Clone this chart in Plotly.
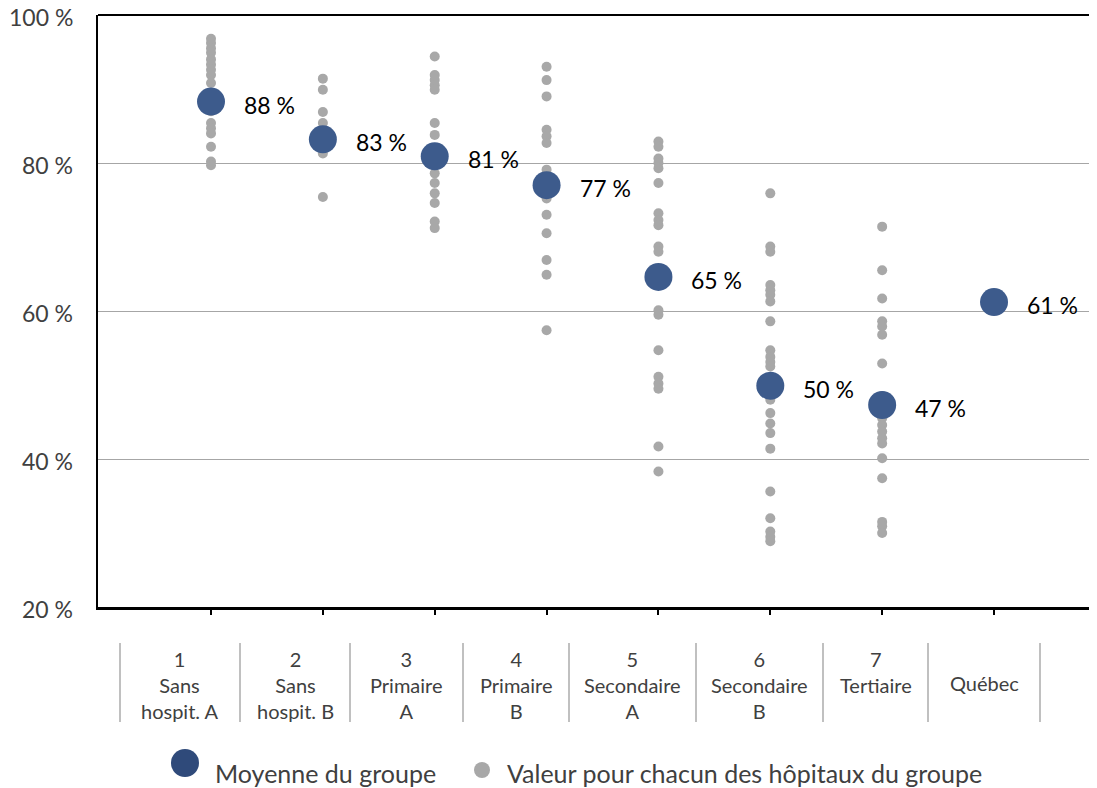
import plotly.graph_objects as go

# ---------------- data ----------------
categories = ["1<br>Sans<br>hospit. A", "2<br>Sans<br>hospit. B", "3<br>Primaire<br>A",
              "4<br>Primaire<br>B", "5<br>Secondaire<br>A", "6<br>Secondaire<br>B",
              "7<br>Tertiaire", "Québec"]

group_means = [88.3, 83.2, 80.9, 77.0, 64.6, 49.9, 47.3, 61.2]

hosp_g1 = [96.8, 96.2, 95.5, 94.9, 94.0, 93.3, 92.6, 91.9, 90.8, 89.5, 88.0, 87.0,
           85.4, 84.7, 84.0, 82.2, 80.2, 79.7]
hosp_g2 = [91.4, 89.9, 86.9, 85.4, 84.0, 82.5, 81.3, 75.4]
hosp_g3 = [94.4, 91.9, 91.2, 90.5, 89.9, 85.4, 83.8, 82.0, 80.0, 78.6, 77.3, 75.9,
           74.6, 72.1, 71.2]
hosp_g4 = [93.0, 91.2, 89.0, 84.5, 83.6, 82.7, 79.1, 78.0, 76.0, 75.2, 73.0, 70.5,
           66.9, 64.9, 57.4]
hosp_g5 = [82.9, 82.2, 80.6, 80.0, 79.3, 77.3, 73.2, 72.3, 71.6, 68.7, 68.0, 65.5,
           63.5, 60.1, 59.5, 54.7, 51.1, 50.2, 49.5, 41.7, 38.3]
hosp_g6 = [75.9, 68.7, 68.0, 63.5, 62.8, 62.2, 61.3, 58.6, 54.7, 53.8, 53.1, 52.5,
           50.5, 48.0, 46.2, 44.8, 43.5, 41.4, 35.6, 32.0, 30.2, 29.5, 28.9]
hosp_g7 = [71.4, 65.5, 61.7, 58.6, 57.9, 56.8, 52.9, 48.5, 46.5, 45.5, 44.6, 43.7,
           42.8, 42.1, 40.1, 37.4, 31.5, 30.9, 30.0]
hosp_quebec = []

hospital_groups = [hosp_g1, hosp_g2, hosp_g3, hosp_g4, hosp_g5, hosp_g6, hosp_g7, hosp_quebec]

y_tickvals = [20, 40, 60, 80, 100]
y_ticktext = ["20 %", "40 %", "60 %", "80 %", "100 %"]

legend_mean = "Moyenne du groupe"
legend_hosp = "Valeur pour chacun des hôpitaux du groupe"

# ---------------- style ----------------
FONT = "Lato"
BLUE = "#3D5B8C"
GREY_DOT = "#A8A8A8"
TEXT_GREY = "#404040"

OFF = 8  # default page body margin
W, H = 1097 - OFF, 788 - OFF
ML, MR, MT, MB = 98 - OFF, 0, 15 - OFF, 181
PW = W - ML - MR
PH = H - MT - MB


def px_x(p):
    """page pixel -> paper x"""
    return (p - OFF - ML) / PW


def px_y(p):
    """page pixel -> paper y"""
    return (H - MB - (p - OFF)) / PH


fig = go.Figure()

# individual hospitals
xs, ys = [], []
for i, vals in enumerate(hospital_groups, start=1):
    xs += [i] * len(vals)
    ys += vals
fig.add_trace(go.Scatter(x=xs, y=ys, mode="markers",
                         marker=dict(size=10, color=GREY_DOT, line=dict(width=0)),
                         name=legend_hosp, showlegend=False, hoverinfo="y"))

# group means
xm = list(range(1, len(group_means) + 1))
fig.add_trace(go.Scatter(x=xm, y=group_means, mode="markers",
                         marker=dict(size=28, color=BLUE, line=dict(width=0)),
                         name=legend_mean, showlegend=False, hoverinfo="y"))

annotations = []
for x, m in zip(xm, group_means):
    annotations.append(dict(x=x, y=m, xref="x", yref="y", text=f"{round(m)} %",
                            showarrow=False, xanchor="left", yanchor="middle",
                            xshift=31, yshift=-3,
                            font=dict(family=FONT, size=23, color="black")))

# y tick labels (as annotations so the top one is not clipped)
for v, t in zip(y_tickvals, y_ticktext):
    annotations.append(dict(x=0, y=v, xref="paper", yref="y", text=t,
                            showarrow=False, xanchor="right", yanchor="middle",
                            xshift=-23, yshift=-2,
                            font=dict(family=FONT, size=23, color=TEXT_GREY)))

# category table below the axis
separators_px = [120, 240, 350, 463, 569, 696, 823, 928, 1040]
shapes = []
for sx in separators_px:
    shapes.append(dict(type="line", xref="paper", yref="paper",
                       x0=px_x(sx), x1=px_x(sx), y0=px_y(643), y1=px_y(722),
                       line=dict(color="#C0C0C0", width=2)))
for k, lab in enumerate(categories):
    cx = (separators_px[k] + separators_px[k + 1]) / 2
    if "<br>" in lab:
        ay, anchor = px_y(645), "top"
    else:
        ay, anchor = px_y(683), "middle"
    annotations.append(dict(x=px_x(cx), y=ay, xref="paper", yref="paper",
                            text=lab, showarrow=False, xanchor="center", yanchor=anchor,
                            align="center",
                            font=dict(family=FONT, size=20, color=TEXT_GREY)))

# top frame line
shapes.append(dict(type="line", xref="paper", yref="paper", x0=0, x1=1,
                   y0=1, y1=1, line=dict(color="black", width=2)))

# legend (drawn manually)
shapes.append(dict(type="circle", xref="paper", yref="paper",
                   x0=px_x(171), x1=px_x(199), y0=px_y(777), y1=px_y(749),
                   fillcolor="#2F4A7A", line=dict(width=0)))
shapes.append(dict(type="circle", xref="paper", yref="paper",
                   x0=px_x(474), x1=px_x(490), y0=px_y(778), y1=px_y(762),
                   fillcolor=GREY_DOT, line=dict(width=0)))
annotations.append(dict(x=px_x(213), y=px_y(773), xref="paper", yref="paper",
                        text=legend_mean, showarrow=False, xanchor="left", yanchor="middle",
                        font=dict(family=FONT, size=25, color=TEXT_GREY)))
annotations.append(dict(x=px_x(505), y=px_y(773), xref="paper", yref="paper",
                        text=legend_hosp, showarrow=False, xanchor="left", yanchor="middle",
                        font=dict(family=FONT, size=25, color=TEXT_GREY)))

x_left = 1 - (211 - 98) / 111.86
x_right = x_left + PW / 111.86

fig.update_layout(
    width=W, height=H,
    margin=dict(l=ML, r=MR, t=MT, b=MB, pad=0, autoexpand=False),
    paper_bgcolor="white", plot_bgcolor="white",
    showlegend=False,
    font=dict(family=FONT, color=TEXT_GREY),
    xaxis=dict(range=[x_left, x_right], tickvals=xm, showticklabels=False,
               ticks="outside", ticklen=5, tickwidth=2, tickcolor="black",
               showline=True, linecolor="black", linewidth=3, automargin=False,
               showgrid=False, zeroline=False, fixedrange=True),
    yaxis=dict(range=[20, 100], tickvals=y_tickvals, showticklabels=False,
               ticks="", automargin=False,
               showline=True, linecolor="black", linewidth=2,
               showgrid=True, gridcolor="#A6A6A6", gridwidth=1,
               zeroline=False, fixedrange=True),
    shapes=shapes,
    annotations=annotations,
)

fig.write_html("out.html")
